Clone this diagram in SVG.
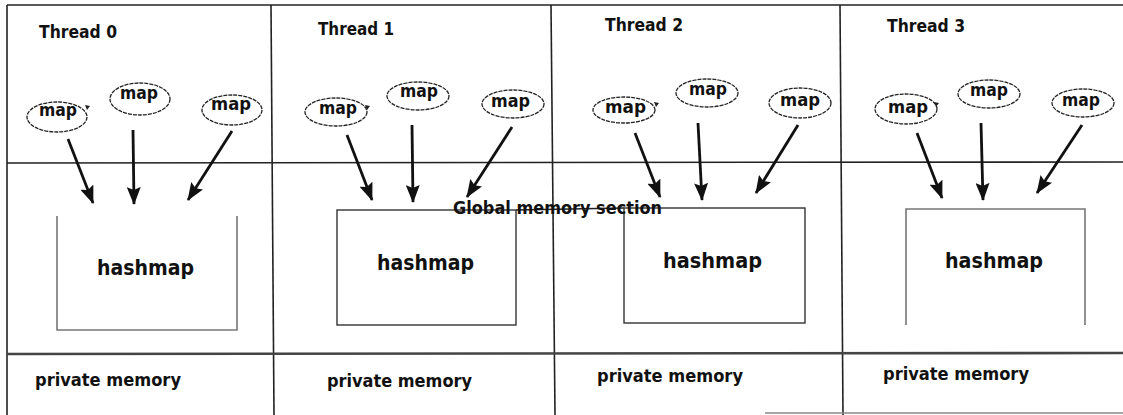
<svg xmlns="http://www.w3.org/2000/svg" width="1123" height="415" viewBox="0 0 1123 415">
<style>
.frame{stroke:#222;stroke-width:1.6;fill:none}
.thick{stroke:#444;stroke-width:2.6;fill:none}
.t{font-family:"DejaVu Sans","Liberation Sans",sans-serif;font-weight:bold;fill:#111}
.lbl{font-size:18.5px}
.map{font-size:18px}
.hm{font-size:22px}
.pm{font-size:18px}
.ell{fill:#fff;stroke:#222;stroke-width:1.3;stroke-dasharray:4 1}
.tick{fill:#222}
.boxg{fill:none;stroke:#777;stroke-width:1.6}
.boxd{fill:none;stroke:#333;stroke-width:1.4}
.arr{stroke:#111;stroke-width:2.8;fill:none;marker-end:url(#ah)}
</style>
<defs>
<marker id="ah" viewBox="0 0 18 14" refX="17" refY="7" markerWidth="18" markerHeight="14" markerUnits="userSpaceOnUse" orient="auto">
<path d="M0,0 L18,7 L0,14 L3,7 z" fill="#111"/>
</marker>
</defs>
<rect width="1123" height="415" fill="#fff"/>

<g id="frame">
<line class="frame" x1="7" y1="5" x2="1123" y2="5"/>
<line class="frame" x1="7" y1="5" x2="7" y2="415"/>
<line class="frame" x1="271" y1="5" x2="274" y2="415"/>
<line class="frame" x1="551" y1="5" x2="555" y2="415"/>
<line class="frame" x1="840" y1="5" x2="843" y2="415"/>
<line class="frame" x1="7" y1="163" x2="1123" y2="162"/>
<line class="thick" x1="7" y1="354" x2="1123" y2="353"/>
<line class="frame" x1="765" y1="413" x2="1123" y2="413" style="stroke:#888;stroke-width:1.4"/>
</g>

<g id="labels">
<text class="t lbl" x="39" y="38" textLength="78" lengthAdjust="spacingAndGlyphs">Thread 0</text>
<text class="t lbl" x="318" y="35" textLength="76" lengthAdjust="spacingAndGlyphs">Thread 1</text>
<text class="t lbl" x="605" y="31" textLength="78" lengthAdjust="spacingAndGlyphs">Thread 2</text>
<text class="t lbl" x="887" y="32" textLength="78" lengthAdjust="spacingAndGlyphs">Thread 3</text>
<text class="t pm" x="35" y="386" textLength="146" lengthAdjust="spacingAndGlyphs">private memory</text>
<text class="t pm" x="327" y="387" textLength="145" lengthAdjust="spacingAndGlyphs">private memory</text>
<text class="t pm" x="597" y="382" textLength="146" lengthAdjust="spacingAndGlyphs">private memory</text>
<text class="t pm" x="883" y="380" textLength="146" lengthAdjust="spacingAndGlyphs">private memory</text>
</g>

<g id="global-line">
<line x1="516" y1="210" x2="624" y2="208" stroke="#222" stroke-width="1.6"/>
</g>

<g id="hashmap0">
<path class="boxg" d="M57,216 V330 H237 V216"/>
<text class="t hm" x="97" y="275" textLength="97" lengthAdjust="spacingAndGlyphs">hashmap</text>
</g>
<g id="hashmap1">
<rect class="boxd" x="337" y="210" width="179" height="115"/>
<text class="t hm" x="377" y="270" textLength="97" lengthAdjust="spacingAndGlyphs">hashmap</text>
</g>
<g id="hashmap2">
<rect class="boxd" x="624" y="208" width="181" height="115"/>
<text class="t hm" x="663" y="268" textLength="99" lengthAdjust="spacingAndGlyphs">hashmap</text>
</g>
<g id="hashmap3">
<path class="boxg" d="M906,325 V209 H1085 V325"/>
<text class="t hm" x="945" y="268" textLength="98" lengthAdjust="spacingAndGlyphs">hashmap</text>
</g>

<g id="global-label">
<text class="t" x="453" y="214" font-size="18" textLength="209" lengthAdjust="spacingAndGlyphs">Global memory section</text>
</g>

<g id="t0-map1"><ellipse class="ell" cx="57" cy="117" rx="30" ry="15"/><path class="tick" d="M85,105 L90,106 L87,110 z"/><text class="t map" x="39" y="116" textLength="38" lengthAdjust="spacingAndGlyphs">map</text></g>
<g id="t0-map2"><ellipse class="ell" cx="140" cy="99" rx="30" ry="16"/><text class="t map" x="120" y="99" textLength="38" lengthAdjust="spacingAndGlyphs">map</text></g>
<g id="t0-map3"><ellipse class="ell" cx="232" cy="110" rx="30" ry="15"/><text class="t map" x="211" y="110" textLength="40" lengthAdjust="spacingAndGlyphs">map</text></g>

<g id="t1-map1"><ellipse class="ell" cx="336" cy="112" rx="31" ry="14"/><path class="tick" d="M365,105 L370,106 L367,110 z"/><text class="t map" x="319" y="114" textLength="38" lengthAdjust="spacingAndGlyphs">map</text></g>
<g id="t1-map2"><ellipse class="ell" cx="418" cy="96" rx="31" ry="14"/><text class="t map" x="400" y="97" textLength="38" lengthAdjust="spacingAndGlyphs">map</text></g>
<g id="t1-map3"><ellipse class="ell" cx="513" cy="104" rx="31" ry="14"/><text class="t map" x="491" y="107" textLength="39" lengthAdjust="spacingAndGlyphs">map</text></g>

<g id="t2-map1"><ellipse class="ell" cx="624" cy="110" rx="31" ry="13"/><path class="tick" d="M654,102 L659,103 L656,107 z"/><text class="t map" x="605" y="113" textLength="41" lengthAdjust="spacingAndGlyphs">map</text></g>
<g id="t2-map2"><ellipse class="ell" cx="707" cy="93" rx="31" ry="14"/><text class="t map" x="689" y="95" textLength="38" lengthAdjust="spacingAndGlyphs">map</text></g>
<g id="t2-map3"><ellipse class="ell" cx="800" cy="103" rx="31" ry="15"/><text class="t map" x="780" y="106" textLength="40" lengthAdjust="spacingAndGlyphs">map</text></g>

<g id="t3-map1"><ellipse class="ell" cx="906" cy="109" rx="31" ry="15"/><path class="tick" d="M934,102 L939,103 L936,107 z"/><text class="t map" x="888" y="113" textLength="40" lengthAdjust="spacingAndGlyphs">map</text></g>
<g id="t3-map2"><ellipse class="ell" cx="989" cy="94" rx="31" ry="14"/><text class="t map" x="970" y="96" textLength="38" lengthAdjust="spacingAndGlyphs">map</text></g>
<g id="t3-map3"><ellipse class="ell" cx="1083" cy="103" rx="31" ry="14"/><text class="t map" x="1062" y="106" textLength="38" lengthAdjust="spacingAndGlyphs">map</text></g>

<g id="connectors">
<line class="arr" x1="68" y1="139" x2="93" y2="203"/>
<line class="arr" x1="133" y1="130" x2="134" y2="204"/>
<line class="arr" x1="232" y1="131" x2="188" y2="200"/>
<line class="arr" x1="347" y1="135" x2="372" y2="200"/>
<line class="arr" x1="412" y1="125" x2="413" y2="202"/>
<line class="arr" x1="512" y1="127" x2="467" y2="197"/>
<line class="arr" x1="635" y1="133" x2="660" y2="197"/>
<line class="arr" x1="698" y1="123" x2="702" y2="200"/>
<line class="arr" x1="798" y1="125" x2="756" y2="193"/>
<line class="arr" x1="917" y1="133" x2="942" y2="198"/>
<line class="arr" x1="981" y1="123" x2="983" y2="200"/>
<line class="arr" x1="1082" y1="125" x2="1037" y2="193"/>
</g>
</svg>
